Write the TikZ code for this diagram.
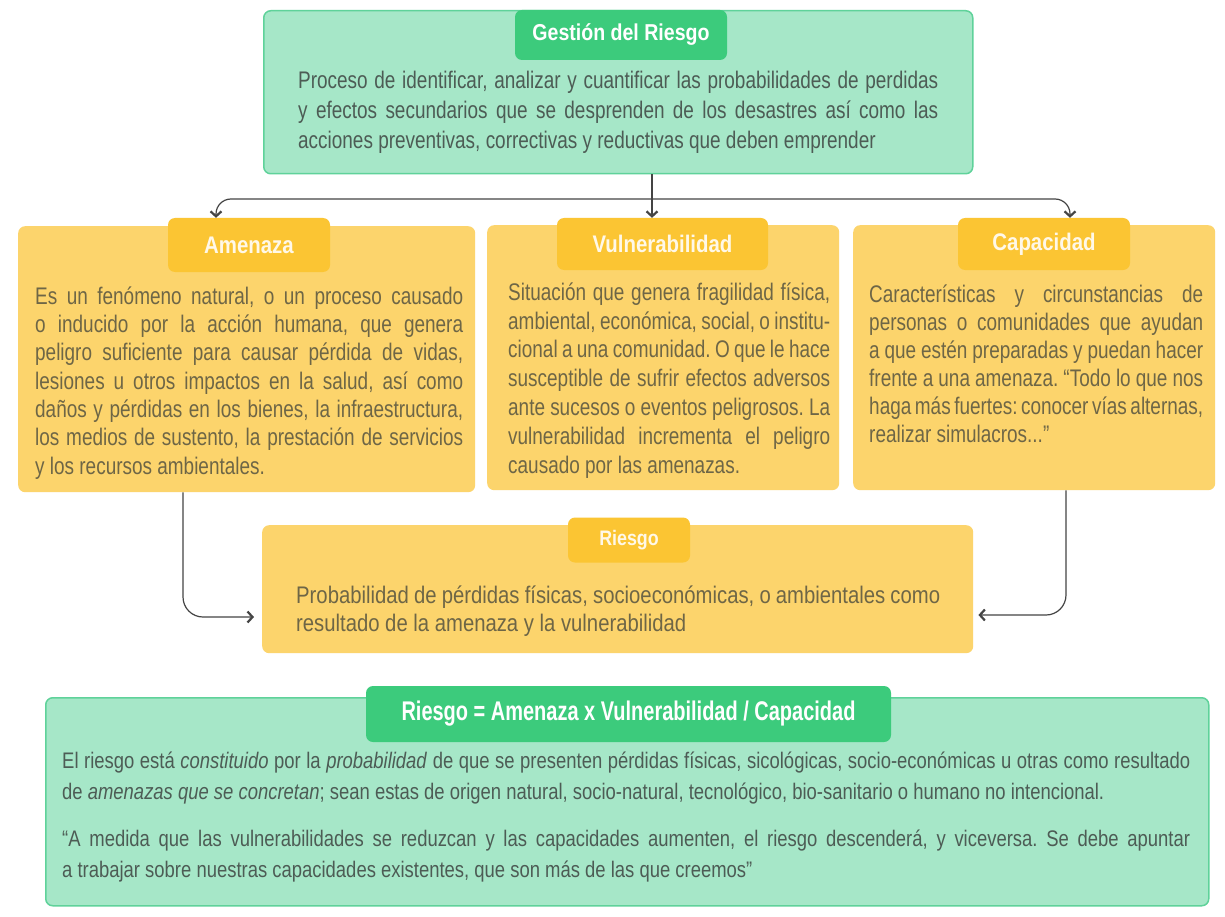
\documentclass[tikz,border=0pt]{standalone}
\usepackage{fontspec}
\setmainfont{Liberation Sans}
\newfontfamily\bodyY{Liberation Sans}[FakeStretch=0.79]
\newfontfamily\bodyR{Liberation Sans}[FakeStretch=0.845]
\newfontfamily\bodyB{Liberation Sans}[FakeStretch=0.82]
\newfontfamily\titA{Liberation Sans}[FakeStretch=0.85]
\newfontfamily\titB{Liberation Sans}[FakeStretch=0.74]
\usetikzlibrary{arrows.meta}
\definecolor{gfill}{HTML}{A6E7C8}
\definecolor{gline}{HTML}{5FD29A}
\definecolor{gtab}{HTML}{3CCB7C}
\definecolor{yfill}{HTML}{FCD46C}
\definecolor{ytab}{HTML}{FBC533}
\definecolor{ytext}{HTML}{6E6646}
\definecolor{gtext}{HTML}{4D5C55}
\definecolor{tabtext}{HTML}{FFF8E8}
\definecolor{conncol}{HTML}{444444}
\setlength\parindent{0pt}
\tolerance=9999
\hbadness=10000
\hyphenpenalty=10000
\frenchspacing
\begin{document}
\begin{tikzpicture}[x=1pt,y=-1pt,
  gbox/.style={draw=gline, line width=1.5pt, fill=gfill, rounded corners=7pt, inner sep=0pt, anchor=north west},
  ybox/.style={fill=yfill, rounded corners=7pt, inner sep=0pt, anchor=north west},
  gtabst/.style={fill=gtab, rounded corners=7pt, inner sep=0pt, text=white},
  ytabst/.style={fill=ytab, rounded corners=7pt, inner sep=0pt, text=tabtext},
  txt/.style={anchor=north west, inner sep=0pt, align=justify},
  ytxt/.style={txt, text=ytext, font=\bodyY\fontsize{24}{28.3}\selectfont},
  conn/.style={draw=conncol, line width=1.2pt, -{Straight Barb[length=5pt,width=11pt,line width=2.2pt]}}
]
\useasboundingbox[fill=white] (0,0) rectangle (1225,917);

% boxes
\node[gbox, minimum width=709pt, minimum height=163pt] (gest) at (263,10) {};
\node[ybox, minimum width=457pt, minimum height=266pt] (amen) at (18,226) {};
\node[ybox, minimum width=352pt, minimum height=265pt] (vuln) at (487,225) {};
\node[ybox, minimum width=362pt, minimum height=265pt] (capa) at (853,225) {};
\node[ybox, minimum width=711pt, minimum height=128pt] (ries) at (262,525) {};
\node[gbox, minimum width=1163pt, minimum height=208pt] (form) at (45,697) {};

% tabs
\node[gtabst, minimum width=212pt, minimum height=50pt, font=\titA\bfseries\fontsize{23}{26}\selectfont] (gtab1) at (621,35) {Gestión del Riesgo};
\node[ytabst, minimum width=162pt, minimum height=54pt, font=\titA\bfseries\fontsize{24}{26}\selectfont] (atab) at (249,245) {Amenaza};
\node[ytabst, minimum width=211pt, minimum height=52pt, font=\titA\bfseries\fontsize{24}{26}\selectfont] (vtab) at (662.5,244) {Vulnerabilidad};
\node[ytabst, minimum width=172pt, minimum height=52pt, font=\titA\bfseries\fontsize{24}{26}\selectfont] (ctab) at (1044,244) {Capacidad};
\node[ytabst, minimum width=122pt, minimum height=45pt, font=\titA\bfseries\fontsize{21}{24}\selectfont] (rtab) at (629,540) {Riesgo};
\node[gtabst, minimum width=525pt, minimum height=56pt, font=\titB\bfseries\fontsize{27}{30}\selectfont] (ftab) at (628.5,714) {Riesgo = Amenaza x Vulnerabilidad / Capacidad};

% texts
\node[txt, text=gtext, text width=640pt, font=\bodyY\fontsize{24}{30}\selectfont] (gtxt) at (298,68) {\rule{0pt}{20pt}Proceso de identificar, analizar y cuantificar las probabilidades de perdidas\linebreak y efectos secundarios que se desprenden de los desastres así como las\linebreak acciones preventivas, correctivas y reductivas que deben emprender};

\node[ytxt, text width=428pt] (atxt) at (35,284) {\rule{0pt}{20pt}Es un fenómeno natural, o un proceso causado\linebreak o inducido por la acción humana, que genera\linebreak peligro suficiente para causar pérdida de vidas,\linebreak lesiones u otros impactos en la salud, así como\linebreak daños y pérdidas en los bienes, la infraestructura,\linebreak los medios de sustento, la prestación de servicios\linebreak y los recursos ambientales.};

\node[ytxt, text width=322pt, font=\bodyY\fontsize{24}{28.8}\selectfont] (vtxt) at (508,280) {\rule{0pt}{20pt}Situación que genera fragilidad física,\linebreak ambiental, económica, social, o institu-\linebreak cional a una comunidad. O que le hace\linebreak susceptible de sufrir efectos adversos\linebreak ante sucesos o eventos peligrosos. La\linebreak vulnerabilidad incrementa el peligro\linebreak causado por las amenazas.};

\node[ytxt, text width=334pt, font=\bodyY\fontsize{24}{28}\selectfont] (ctxt) at (869,282) {\rule{0pt}{20pt}Características y circunstancias de\linebreak personas o comunidades que ayudan\linebreak a que estén preparadas y puedan hacer\linebreak frente a una amenaza. “Todo lo que nos\linebreak haga más fuertes: conocer vías alternas,\linebreak realizar simulacros...”};

\node[txt, text=ytext, text width=644pt, font=\bodyR\fontsize{24}{28}\selectfont] (rtxt) at (296,583) {\rule{0pt}{20pt}Probabilidad de pérdidas físicas, socioeconómicas, o ambientales como\linebreak resultado de la amenaza y la vulnerabilidad};

\node[txt, text=gtext, text width=1128pt, font=\bodyB\fontsize{22.5}{31}\selectfont] (ftxt) at (62,748) {\rule{0pt}{20pt}El riesgo está \textit{constituido} por la \textit{probabilidad} de que se presenten pérdidas físicas, sicológicas, socio-económicas u otras como resultado\linebreak de \textit{amenazas que se concretan}; sean estas de origen natural, socio-natural, tecnológico, bio-sanitario o humano no intencional.\par\vskip16pt
\rule{0pt}{20pt}“A medida que las vulnerabilidades se reduzcan y las capacidades aumenten, el riesgo descenderá, y viceversa. Se debe apuntar\linebreak a trabajar sobre nuestras capacidades existentes, que son más de las que creemos”};

% connectors
\coordinate (jc) at (652,199);
\coordinate (ja) at (216,199);
\coordinate (jr) at (1070,199);
\coordinate (ja2) at (183,617);
\coordinate (jr2) at (1066,615);
\draw[conn] (gest.south -| jc) -- (vtab.north -| jc);
\draw[conn, rounded corners=15pt] (jc) -| (atab.north -| ja);
\draw[conn, rounded corners=15pt] (jc) -| (ctab.north -| jr);
\draw[conn, rounded corners=20pt] (amen.south -| ja2) |- ([xshift=-8pt]ries.west |- ja2);
\draw[conn, rounded corners=20pt] (capa.south -| jr2) |- ([xshift=5pt]ries.east |- jr2);
\end{tikzpicture}
\end{document}
